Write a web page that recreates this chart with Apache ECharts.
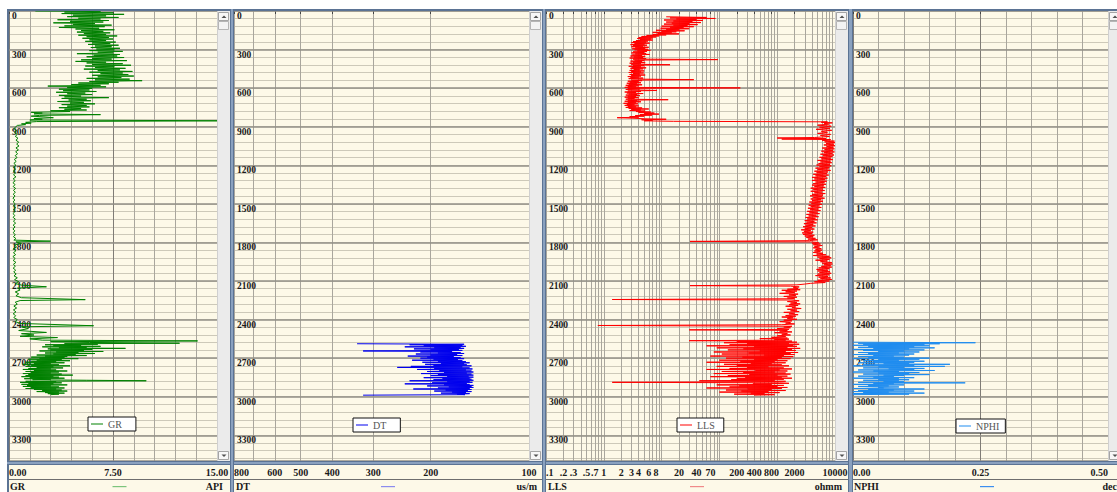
<!DOCTYPE html>
<html><head><meta charset="utf-8">
<script src="https://cdn.jsdelivr.net/npm/echarts@6/dist/echarts.min.js"></script>
<style>html,body{margin:0;padding:0;background:#fff}#c{width:1117px;height:492px}</style>
</head><body><div id="c"></div>
<script>
// ---------------- DATA ----------------
const depthRange = [0, 3500];
const curveNames = ['GR', 'DT', 'LLS', 'NPHI'];
const curveUnits = ['API', 'us/m', 'ohmm', 'dec'];
const grRange = [0, 15];
const dtRange = [100, 800];
const llsRange = [0.1, 10000];
const nphiRange = [0, 0.5];
const grLabelValues = [0, 7.5, 15];
const nphiLabelValues = [0, 0.25, 0.5];
const dtGridValues = [100, 200, 300, 400, 500, 600, 700, 800];
const dtLabelValues = [100, 200, 300, 400, 500, 600, 800];
const llsGridValues = [0.1,0.2,0.3,0.4,0.5,0.6,0.7,0.8,0.9,1,2,3,4,5,6,7,8,9,10,20,30,40,50,60,70,80,90,100,200,300,400,500,600,700,800,900,1000,2000,3000,4000,5000,6000,7000,8000,9000,10000];
const llsLabelValues = [0.1,0.2,0.3,0.5,0.7,1,2,3,4,6,8,20,40,70,200,400,800,2000,10000];

// [depth, value]
const grLog = [
[0,1.9],[2,6.6],[8,4.0],[14,7.5],[20,3.8],[26,8.3],[32,4.6],[38,7.0],[44,4.2],[50,7.9],[56,5.0],[62,6.6],[68,3.5],[74,7.2],[80,4.4],[86,6.8],[92,3.2],[98,6.2],[104,4.6],[110,7.4],[116,4.0],[122,6.9],[128,3.6],[134,6.5],[140,4.8],[146,7.6],[152,5.2],[158,6.8],[164,4.9],[170,7.3],[176,5.4],[182,7.0],[188,5.0],[194,7.8],[200,5.6],[206,7.2],[212,5.3],[218,7.5],[224,5.8],[230,7.0],[236,5.5],[242,7.7],[248,6.0],[254,7.3],[260,5.7],[266,7.9],[272,6.2],[278,7.4],[284,5.9],[290,8.0],[296,6.3],[302,7.6],[308,5.8],[314,8.2],[320,6.4],[326,7.5],[332,4.9],[338,8.0],[344,6.1],[350,7.8],[356,5.6],[362,8.3],[368,6.0],[374,7.4],[380,5.2],[386,8.5],[392,4.8],[398,7.0],[404,5.6],[410,8.2],[416,6.0],[422,8.8],[428,5.5],[434,7.6],[440,6.2],[446,8.4],[452,5.4],[458,8.0],[464,6.4],[470,8.9],[476,5.8],[482,8.2],[488,6.6],[494,8.6],[500,6.0],[506,9.0],[512,6.4],[518,8.1],[524,5.6],[530,8.7],[536,6.2],[542,9.6],[548,5.8],[554,7.9],[560,5.0],[566,7.2],[572,4.5],[578,6.6],[584,2.8],[590,7.0],[596,4.2],[602,6.0],[608,3.6],[614,5.8],[620,3.9],[626,6.3],[632,3.4],[638,5.5],[644,4.2],[650,6.0],[656,3.6],[662,5.2],[668,4.0],[674,7.2],[680,3.8],[686,5.6],[692,4.3],[698,5.9],[704,3.5],[710,5.4],[716,4.4],[722,6.2],[728,3.8],[734,5.6],[740,4.2],[746,5.8],[752,3.6],[758,5.2],[764,4.0],[770,5.6],[776,3.0],[782,4.4],[788,1.6],[794,2.4],[800,1.8],[806,6.6],[812,2.2],[818,1.6],[824,2.6],[830,3.2],[836,1.8],[842,2.4],[848,1.5],[854,16],[860,2.0],[866,1.2],[872,1.6],[878,0.9],[884,1.2],[890,0.6],
[900,0.5],[915,0.35],[930,0.55],[945,0.4],[960,0.6],[975,0.45],[990,0.65],[1005,0.5],[1020,0.7],[1035,0.55],[1050,0.72],[1065,0.5],[1080,0.68],[1095,0.48],[1110,0.62],[1125,0.45],[1140,0.58],[1155,0.38],[1170,0.52],[1185,0.35],[1200,0.5],[1215,0.32],[1230,0.48],[1245,0.3],[1260,0.46],[1275,0.33],[1290,0.5],[1305,0.3],[1320,0.45],[1335,0.28],[1350,0.44],[1365,0.3],[1380,0.48],[1395,0.32],[1410,0.46],[1425,0.3],[1440,0.44],[1455,0.28],[1470,0.42],[1485,0.3],[1500,0.45],[1515,0.32],[1530,0.48],[1545,0.3],[1560,0.44],[1575,0.28],[1590,0.42],[1605,0.3],[1620,0.46],[1635,0.32],[1650,0.48],[1665,0.3],[1680,0.44],[1695,0.28],[1710,0.42],[1725,0.3],[1740,0.46],[1755,0.32],[1770,0.5],[1782,0.35],[1790,3.0],[1796,0.5],[1808,0.9],[1820,0.4],[1835,0.55],[1850,0.3],[1865,0.5],[1880,0.32],[1895,0.48],[1910,0.28],[1925,0.45],[1940,0.3],[1955,0.5],[1970,0.32],[1985,0.46],[2000,0.3],[2015,0.48],[2030,0.34],[2045,0.52],[2060,0.36],[2075,0.6],[2090,0.4],[2105,0.7],[2120,0.45],[2132,0.9],[2145,2.7],[2155,0.6],[2170,0.8],[2185,0.45],[2200,0.7],[2215,0.5],[2230,0.9],[2245,5.5],[2252,0.8],[2265,0.45],[2280,0.6],[2295,0.35],[2310,0.55],[2325,0.32],[2340,0.5],[2355,0.3],[2370,0.48],[2385,0.35],[2400,0.6],[2415,0.45],[2430,0.8],[2448,6.1],[2456,0.9],[2470,1.4],[2485,0.7],[2500,2.7],[2510,0.9],[2520,1.8],[2530,0.8],[2540,3.5],[2550,1.5],[2560,2.4],
[2566,13.6],[2572,3.0],[2578,5.8],[2584,12.3],[2588,4.0],[2592,6.4],[2596,2.6],[2600,5.2],[2604,3.2],[2608,6.6],[2612,2.4],[2616,5.6],[2620,3.6],[2624,8.4],[2628,2.8],[2632,6.0],[2636,3.0],[2640,5.4],[2644,2.2],[2648,6.8],[2652,3.4],[2656,5.0],[2660,2.6],[2664,6.2],[2668,3.2],[2672,4.8],[2676,2.0],[2680,5.6],[2684,2.6],[2688,4.2],[2692,1.6],[2696,4.0],[2700,2.2],[2704,5.0],[2708,1.4],[2712,3.8],[2716,2.0],[2720,4.4],[2724,1.6],[2728,3.4],[2732,1.2],[2736,4.0],[2740,1.8],[2744,3.0],[2748,1.0],[2752,3.6],[2756,1.6],[2760,4.4],[2764,1.2],[2768,3.2],[2772,2.0],[2776,3.9],[2780,1.4],[2784,3.0],[2788,1.0],[2792,3.4],[2796,1.8],[2800,4.2],[2804,1.2],[2808,3.6],[2812,1.6],[2816,3.0],[2820,1.0],[2824,3.8],[2828,1.4],[2832,4.6],[2836,1.2],[2840,3.2],[2844,0.9],[2848,3.6],[2852,1.5],[2856,4.0],[2860,1.1],[2864,3.0],[2868,1.7],[2872,5.6],[2876,9.9],[2880,1.2],[2884,3.4],[2888,0.8],[2892,3.8],[2896,1.4],[2900,3.2],[2904,0.9],[2908,4.2],[2912,1.3],[2916,3.0],[2920,1.0],[2924,3.6],[2928,1.6],[2932,4.0],[2936,1.2],[2940,3.4],[2944,1.8],[2948,3.8],[2952,2.4],[2956,4.2],[2960,2.0],[2964,3.6],[2968,2.6],[2972,4.0],[2976,2.8],[2980,3.6],[2984,3.0]
];

const dtLog = [
[2588,336],[2592,158],[2596,232],[2600,160],[2604,210],[2608,156],[2612,240],[2616,162],[2620,195],[2624,158],[2628,225],[2632,164],[2636,200],[2640,160],[2644,322],[2648,172],[2652,215],[2656,162],[2660,190],[2664,158],[2668,222],[2672,166],[2676,200],[2680,160],[2684,235],[2688,170],[2692,205],[2696,162],[2700,215],[2704,158],[2708,196],[2712,165],[2716,228],[2720,160],[2724,190],[2728,156],[2732,212],[2736,152],[2740,186],[2744,158],[2748,208],[2752,155],[2756,196],[2760,150],[2764,230],[2768,160],[2772,253],[2776,152],[2780,195],[2784,149],[2788,220],[2792,156],[2796,188],[2800,150],[2804,205],[2808,148],[2812,182],[2816,155],[2820,214],[2824,150],[2828,190],[2832,148],[2836,200],[2840,153],[2844,178],[2848,148],[2852,210],[2856,152],[2860,184],[2864,150],[2868,196],[2872,148],[2876,232],[2880,152],[2884,178],[2888,149],[2892,198],[2896,155],[2900,240],[2904,152],[2908,182],[2912,148],[2916,205],[2920,150],[2924,176],[2928,148],[2932,190],[2936,152],[2940,226],[2944,150],[2948,180],[2952,154],[2956,195],[2960,150],[2964,172],[2968,156],[2972,186],[2976,152],[2980,166],[2984,157],[2988,322]
];

const llsLog = [
[45,12],[50,60],[54,14],[58,85],[62,18],[66,40],[70,11],[74,52],[78,16],[82,34],[86,12],[90,48],[94,15],[98,30],[102,11],[106,42],[110,16],[114,28],[118,10],[122,36],[126,14],[130,24],[134,9.6],[138,30],[142,12],[146,20],[150,8],[154,25],[158,10],[162,18],[166,7],[170,15],[174,8.5],[178,20],[182,7],[186,12],[190,5.5],[194,9],[198,4.5],[202,8],[206,4],[210,7],[214,3.8],[218,6.5],[222,4.2],[226,7],[230,3.6],[234,5.8],[238,3.2],[242,5.4],[246,3.0],[250,6.2],[254,3.4],[258,5.0],[262,2.9],[266,5.6],[270,3.2],[274,4.8],[278,3.0],[282,6.0],[286,3.5],[290,5.2],[294,3.1],[298,5.8],[302,3.4],[306,6.4],[310,3.8],[314,5.6],[318,3.2],[322,5.0],[326,3.0],[330,5.4],[334,3.5],[338,6.2],[342,3.1],[346,4.6],[350,2.9],[354,5.2],[358,3.3],[362,4.8],[366,2.8],[370,5.4],[374,3.2],[378,94],[382,3.4],[386,5.0],[390,2.9],[394,4.6],[398,3.2],[402,5.2],[406,2.8],[410,4.4],[414,3.0],[418,14],[422,3.2],[426,5.0],[430,2.7],[434,4.4],[438,3.1],[442,5.4],[446,2.9],[450,4.8],[454,3.3],[458,4.2],[462,2.8],[466,5.0],[470,3.0],[474,4.4],[478,2.7],[482,4.9],[486,3.2],[490,4.2],[494,2.8],[498,5.2],[502,3.0],[506,4.4],[510,2.6],[514,4.0],[518,2.9],[522,4.8],[526,2.7],[530,4.2],[534,36],[538,3.0],[542,4.6],[546,2.6],[550,4.0],[554,2.8],[558,4.4],[562,2.5],[566,3.8],[570,2.7],[574,4.6],[578,2.4],[582,4.0],[586,2.6],[590,3.6],[594,2.3],[598,230],[602,2.6],[606,4.2],[610,2.4],[614,3.8],[618,8.3],[622,2.6],[626,4.4],[630,2.3],[634,3.6],[638,2.5],[642,4.8],[646,2.7],[650,3.8],[654,2.4],[658,4.2],[662,2.6],[666,3.6],[670,2.3],[674,4.0],[678,2.6],[682,3.4],[686,2.4],[690,13],[694,2.6],[698,3.8],[702,2.3],[706,4.4],[710,2.6],[714,3.6],[718,2.2],[722,3.9],[726,2.5],[730,3.4],[734,2.3],[738,4.0],[742,2.6],[746,3.6],[750,2.4],[754,4.6],[758,2.7],[762,6.0],[766,3.0],[770,4.4],[774,2.8],[778,5.2],[782,3.6],[786,6.5],[790,4.0],[794,7.5],[798,5.0],[802,9],[806,4.2],[810,6.8],[814,3.5],[818,5.0],[822,2.8],[826,4.0],[830,1.7],[834,3.2],[838,5.0],[842,12],[846,4.5],[850,7],[854,5],[858,16],[862,7400],[866,5800],[870,9000],[874,6500],
[880,7800],[888,5000],[896,8600],[904,5400],[912,8200],[920,4700],[928,8800],[936,5800],[944,7400],[952,5000],[960,8400],[968,5600],[976,8000],[984,4400],[988,1000],[992,7000],[996,1200],[1000,8400],[1006,6000],[1012,9800],[1018,6600],[1024,10000],[1030,7000],[1036,9600],[1042,6400],[1048,10000],[1054,7200],[1060,9400],[1066,6000],[1072,9800],[1078,6600],[1084,9200],[1090,5800],[1096,9800],[1102,6400],[1108,9000],[1114,5600],[1120,9600],[1126,6200],[1132,9000],[1138,5400],[1144,8600],[1150,5800],[1156,9200],[1162,5000],[1168,8400],[1174,5600],[1180,8800],[1186,5200],[1192,8200],[1198,4800],[1204,8600],[1210,5400],[1216,8000],[1222,4600],[1228,7800],[1234,5000],[1240,8400],[1246,4400],[1252,7600],[1258,4800],[1264,7200],[1270,4200],[1276,7800],[1282,4600],[1288,7000],[1294,4000],[1300,7400],[1306,4400],[1312,6800],[1318,4000],[1324,7200],[1330,4600],[1336,6600],[1342,4200],[1348,7000],[1354,4000],[1360,6400],[1366,4400],[1372,6800],[1378,3800],[1384,6200],[1390,4200],[1396,6600],[1402,3800],[1408,6000],[1414,4400],[1420,6800],[1426,4000],[1432,6200],[1438,3700],[1444,6000],[1450,4200],[1456,6600],[1462,3800],[1468,5800],[1474,4000],[1480,6200],[1486,3600],[1492,5600],[1498,3900],[1504,6000],[1510,3500],[1516,5400],[1522,3800],[1528,5800],[1534,3400],[1540,5200],[1546,3700],[1552,5600],[1558,3300],[1564,5000],[1570,3600],[1576,5400],[1582,3200],[1588,4800],[1594,3500],[1600,5200],[1606,3100],[1612,4600],[1618,3300],[1624,5000],[1630,3000],[1636,4400],[1642,3200],[1648,4800],[1654,2900],[1660,4200],[1666,3100],[1672,4600],[1678,2800],[1684,4000],[1690,3000],[1696,4400],[1702,2600],[1708,3800],[1714,2900],[1720,4200],[1726,2700],[1732,4000],[1738,2800],[1744,4400],[1750,3000],[1756,4200],[1762,3200],[1768,4600],[1774,3400],[1780,5000],[1786,3600],[1792,31],[1796,3800],[1800,5200],[1806,4000],[1812,5600],[1818,4200],[1824,6000],[1830,4400],[1836,5400],[1842,4200],[1848,5800],[1854,4600],[1860,6000],[1866,4400],[1872,5600],[1878,4200],[1884,6200],[1890,4800],[1896,7000],[1902,4200],[1908,8000],[1914,5000],[1920,8600],[1926,5400],[1932,8000],[1938,4600],[1944,7400],[1950,5600],[1956,8800],[1962,6000],[1968,9000],[1974,6400],[1980,8400],[1986,5800],[1992,8800],[1998,5200],[2004,8000],[2010,4800],[2016,7600],[2022,5000],[2028,8200],[2034,5400],[2040,8600],[2046,5000],[2052,8000],[2058,4600],[2064,7600],[2070,5200],[2076,8400],[2082,5600],[2088,8800],[2094,5000],[2100,8000],[2106,4400],[2112,6800],[2118,3800],[2124,3000],[2130,2200],[2136,31],[2140,1700],[2146,2400],[2152,1900],[2158,2300],[2164,1500],[2168,2500],[2172,1200],[2178,2200],[2184,1400],[2190,2000],[2196,1100],[2202,2300],[2208,1600],[2214,2100],[2220,1300],[2226,2200],[2232,1500],[2238,2000],[2244,1.4],[2248,1800],[2254,2400],[2260,1500],[2266,2200],[2272,1700],[2278,2500],[2284,1600],[2290,2300],[2296,1400],[2302,2100],[2308,1800],[2314,2600],[2320,1500],[2326,2200],[2332,1700],[2338,2400],[2344,1300],[2350,2000],[2356,1600],[2362,2300],[2368,1400],[2374,2100],[2380,1200],[2386,1900],[2392,1500],[2398,2200],[2404,1300],[2410,1800],[2416,1100],[2422,1700],[2428,1400],[2434,2000],[2440,1200],[2446,0.79],[2452,1800],[2458,1300],[2464,1700],[2470,1000],[2476,1600],[2480,30],[2484,1500],[2490,1100],[2496,1800],[2502,900],[2508,1500],[2514,1200],[2520,1700],[2526,1000],[2532,1400],[2538,800],[2544,1500],[2548,500],[2552,1600],[2556,900],[2560,1400],
[2564,30],[2568,1800],[2572,200],[2576,2200],[2580,120],[2584,1600],[2588,300],[2592,2400],[2596,150],[2600,1900],[2604,60],[2608,2200],[2612,400],[2616,1500],[2620,90],[2624,2500],[2628,260],[2632,1800],[2636,140],[2640,2100],[2644,500],[2648,1400],[2652,80],[2656,2300],[2660,320],[2664,1700],[2668,110],[2672,2000],[2676,600],[2680,1300],[2684,70],[2688,1900],[2692,250],[2696,1200],[2700,130],[2704,1700],[2708,400],[2712,1000],[2716,100],[2720,1500],[2724,230],[2728,900],[2732,60],[2736,1400],[2740,350],[2744,800],[2748,120],[2752,1200],[2756,200],[2760,1600],[2764,90],[2768,700],[2772,300],[2776,1300],[2780,150],[2784,1800],[2788,60],[2792,1100],[2796,420],[2800,1500],[2804,110],[2808,900],[2812,260],[2816,1400],[2820,80],[2824,1700],[2828,330],[2832,1000],[2836,140],[2840,1500],[2844,70],[2848,1200],[2852,280],[2856,1800],[2860,200],[2864,1300],[2868,160],[2872,900],[2876,45],[2880,1400],[2884,300],[2888,1.4],[2892,1100],[2896,1600],[2900,380],[2904,800],[2908,90],[2912,1300],[2916,220],[2920,1000],[2924,150],[2928,1500],[2932,60],[2936,1200],[2940,310],[2944,800],[2948,130],[2952,1400],[2956,240],[2960,700],[2964,100],[2968,1100],[2972,350],[2976,600],[2980,180],[2984,900],[2988,400]
];

const nphiLog = [
[2576,0.0],[2580,0.24],[2584,0.01],[2588,0.17],[2592,0.02],[2596,0.14],[2600,0.0],[2604,0.15],[2608,0.03],[2612,0.12],[2616,0.01],[2620,0.16],[2624,0.04],[2628,0.11],[2632,0.0],[2636,0.14],[2640,0.02],[2644,0.10],[2648,0.05],[2652,0.13],[2656,0.01],[2660,0.09],[2664,0.03],[2668,0.12],[2672,0.0],[2676,0.11],[2680,0.04],[2684,0.08],[2688,0.01],[2692,0.10],[2696,0.03],[2700,0.15],[2704,0.0],[2708,0.13],[2712,0.05],[2716,0.09],[2720,0.02],[2724,0.14],[2728,0.04],[2732,0.12],[2736,0.01],[2740,0.11],[2744,0.06],[2748,0.19],[2752,0.02],[2756,0.12],[2760,0.0],[2764,0.18],[2768,0.05],[2772,0.10],[2776,0.02],[2780,0.14],[2784,0.07],[2788,0.12],[2792,0.01],[2796,0.16],[2800,0.04],[2804,0.09],[2808,0.0],[2812,0.13],[2816,0.05],[2820,0.11],[2824,0.02],[2828,0.15],[2832,0.06],[2836,0.10],[2840,0.01],[2844,0.08],[2848,0.04],[2852,0.12],[2856,0.0],[2860,0.09],[2864,0.05],[2868,0.11],[2872,0.02],[2876,0.09],[2880,0.06],[2884,0.10],[2888,0.01],[2892,0.22],[2896,0.04],[2900,0.08],[2904,0.0],[2908,0.10],[2912,0.03],[2916,0.07],[2920,0.01],[2924,0.09],[2928,0.05],[2932,0.06],[2936,0.0],[2940,0.14],[2944,0.03],[2948,0.08],[2952,0.01],[2956,0.12],[2960,0.0],[2964,0.07],[2968,0.02],[2972,0.14],[2976,0.0],[2980,0.11],[2984,0.0]
];

// ---------------- LAYOUT / STYLE ----------------
const FONT = '"Liberation Serif", "DejaVu Serif", serif';
const CREAM = '#fdf9e8';
const FRAME = '#8aa1bf', FRAME_DARK = '#5b7394';
const plotTop = 11, plotH = 450, plotBottom = plotTop + plotH;
const tracks = [
  { left: 9,   right: 217, color: '#008000', legendColor: '#7cc47c', legend: { left: 88, top: 417, padding: [2, 14, 2, 3] }, nameX: 10,  unitX: 223 },
  { left: 234, right: 529, color: '#0000ee', legendColor: '#8c8cee', legend: { left: 353, top: 418, padding: [2, 14, 2, 3] }, nameX: 236, unitX: 537 },
  { left: 546, right: 835, color: '#ff0000', legendColor: '#f08a8a', legend: { left: 677, top: 418, padding: [2, 9, 2, 3] },  nameX: 548, unitX: 842 },
  { left: 853, right: 1108, color: '#1e8cf0', legendColor: '#3c8ff0', legend: { left: 956, top: 419, padding: [2, 6, 2, 3] },  nameX: 854, unitX: 1117 }
];

function nudge(vals, lo, hi) { return vals.map(v => v <= lo ? lo * 1.000001 : (v >= hi ? hi * 0.999999 : v)); }
function nearest(list, val) {
  let best = list[0], bd = Infinity;
  list.forEach(v => { const d = Math.abs(Math.log(v) - Math.log(val)); if (d < bd) { bd = d; best = v; } });
  return best;
}
const labelText = { fontFamily: FONT, fontWeight: 'bold', fontSize: 10, color: '#1a1a1a' };
const vGrid = { show: true, lineStyle: { color: '#a9a69d', width: 1 } };

const grids = tracks.map(t => ({ left: t.left, top: plotTop, width: t.right - t.left, height: plotH, containLabel: false }));

function gridAxis(gi, base) {
  return Object.assign({ gridIndex: gi, position: 'top', axisLine: { show: false }, axisTick: { show: false }, axisLabel: { show: false }, splitLine: vGrid, z: 1 }, base);
}
function labelAxis(gi, base, lab) {
  return Object.assign({ gridIndex: gi, position: 'bottom', offset: 4, axisLine: { show: false },
    axisTick: Object.assign({ show: true, length: 3, inside: false, lineStyle: { color: '#444' } }, lab.tick || {}),
    axisLabel: Object.assign({ show: true, margin: 2 }, labelText, lab.label),
    splitLine: lab.split || { show: false }, z: 2 }, base);
}

const xAxes = [
  gridAxis(0, { type: 'value', min: grRange[0], max: grRange[1], interval: 1.5 }),
  labelAxis(0, { type: 'value', min: grRange[0], max: grRange[1], interval: 7.5 },
    { label: { formatter: v => v.toFixed(2), alignMinLabel: 'left', alignMaxLabel: 'center' },
      split: { show: true, lineStyle: { color: '#7f7c76', width: 1 } } }),
  gridAxis(1, { type: 'log', logBase: 10, min: dtRange[0], max: dtRange[1], inverse: true,
    axisTick: { show: false, customValues: nudge(dtGridValues, dtRange[0], dtRange[1]) } }),
  labelAxis(1, { type: 'log', logBase: 10, min: dtRange[0], max: dtRange[1], inverse: true },
    { tick: { customValues: nudge(dtLabelValues, dtRange[0], dtRange[1]) },
      label: { customValues: nudge(dtLabelValues, dtRange[0], dtRange[1]), formatter: v => String(nearest(dtLabelValues, v)), alignMinLabel: 'center', alignMaxLabel: 'left' } }),
  gridAxis(2, { type: 'log', logBase: 10, min: llsRange[0], max: llsRange[1],
    axisTick: { show: false, customValues: nudge(llsGridValues, llsRange[0], llsRange[1]) } }),
  labelAxis(2, { type: 'log', logBase: 10, min: llsRange[0], max: llsRange[1] },
    { tick: { customValues: nudge(llsLabelValues, llsRange[0], llsRange[1]) },
      label: { customValues: nudge(llsLabelValues, llsRange[0], llsRange[1]),
        formatter: v => { const n = nearest(llsLabelValues, v); return n < 1 ? String(n).replace(/^0/, '') : String(n); },
        alignMinLabel: 'left', alignMaxLabel: 'center' } }),
  gridAxis(3, { type: 'value', min: nphiRange[0], max: nphiRange[1], interval: 0.05 }),
  labelAxis(3, { type: 'value', min: nphiRange[0], max: nphiRange[1], interval: 0.25 },
    { label: { formatter: v => v.toFixed(2), alignMinLabel: 'left', alignMaxLabel: 'right' },
      split: { show: true, lineStyle: { color: '#7f7c76', width: 1 } } })
];

const yAxes = [];
tracks.forEach((t, i) => {
  yAxes.push({ gridIndex: i, type: 'value', inverse: true, min: depthRange[0], max: depthRange[1], interval: 300, position: 'left',
    axisLine: { show: false }, axisTick: { show: false },
    axisLabel: { show: true, inside: true, margin: 3, verticalAlign: 'top', padding: [0, 0, 0, 0], showMaxLabel: false,
      formatter: v => String(v),
      fontFamily: FONT, fontWeight: 'bold', fontSize: 9.5, color: '#1a1a1a' },
    splitLine: { show: true, lineStyle: { color: '#928f87', width: 1.5 } }, z: 3 });
  yAxes.push({ gridIndex: i, type: 'value', inverse: true, min: depthRange[0], max: depthRange[1], interval: 60, position: 'right',
    axisLine: { show: false }, axisTick: { show: false }, axisLabel: { show: false },
    splitLine: { show: true, lineStyle: { color: '#cdc9b9', width: 1 } }, z: 0 });
});

const logs = [grLog, dtLog, llsLog, nphiLog];
const series = logs.map((log, i) => ({
  name: curveNames[i], type: 'line', xAxisIndex: i * 2, yAxisIndex: i * 2,
  data: log.map(p => [p[1], p[0]]), symbol: 'none', showSymbol: false, clip: true,
  color: tracks[i].color, lineStyle: { color: tracks[i].color, width: 1 }, z: 5, silent: true, animation: false
}));

const legends = tracks.map((t, i) => ({
  data: [curveNames[i]], left: t.legend.left, top: t.legend.top, padding: t.legend.padding,
  backgroundColor: '#ffffff', borderColor: '#111', borderWidth: 1, borderRadius: 0,
  icon: 'rect', itemWidth: 12, itemHeight: 1, itemGap: 0, selectedMode: false,
  textStyle: { fontFamily: FONT, fontSize: 10, color: '#555' }
}));

// ---------------- FRAME GRAPHICS ----------------
const els = [];
function rect(x, y, w, h, fill, z, stroke) {
  els.push({ type: 'rect', silent: true, z: z, shape: { x: x, y: y, width: w, height: h },
    style: stroke ? { fill: fill, stroke: stroke, lineWidth: 1 } : { fill: fill } });
}
function tri(points, z) { els.push({ type: 'polygon', silent: true, z: z, shape: { points: points }, style: { fill: '#505050' } }); }
function txt(text, x, y, align, z, font) {
  els.push({ type: 'text', silent: true, z: z, style: { text: text, x: x, y: y, textAlign: align, align: align,
    textVerticalAlign: 'middle', verticalAlign: 'middle', font: font || ('bold 10px ' + FONT), fill: '#1a1a1a' } });
}
tracks.forEach(t => rect(t.left, plotTop, t.right - t.left, plotH, CREAM, -10));
rect(8, 465, 1109, 27, CREAM, -10);
rect(8, 479, 1109, 1, '#6e6e6e', 6);
tracks.forEach(t => {
  const x = t.right;
  rect(x, plotTop, 13, plotH, '#ebebeb', 6);
  rect(x, plotTop, 1, plotH, '#d0d0d0', 6);
  rect(x + 1.5, 12.5, 10, 8, '#f7f7f7', 7, '#a5a5a5');
  tri([[x + 4.5, 18], [x + 9.5, 18], [x + 7, 15.5]], 8);
  rect(x + 1.5, 21.5, 10, 8, '#f3f3f3', 7, '#b5b5b5');
  rect(x + 1.5, 451.5, 10, 8, '#f7f7f7', 7, '#a5a5a5');
  tri([[x + 4.5, 454.5], [x + 9.5, 454.5], [x + 7, 457]], 8);
});
rect(0, 0, 1117, 9, '#ffffff', 9);
rect(0, 0, 7, 492, '#ffffff', 9);
rect(7, 9, 1110, 2, FRAME_DARK, 10);
rect(7, 9, 2, 483, FRAME_DARK, 10);
rect(7, 461, 1110, 4, FRAME, 10);
rect(7, 461, 1110, 1, FRAME_DARK, 10);
rect(7, 464, 1110, 1, FRAME_DARK, 10);
[[230, 4], [542, 4], [848, 5]].forEach(s => {
  rect(s[0], 9, s[1], 483, FRAME, 11);
  rect(s[0], 9, 1, 483, FRAME_DARK, 11);
  rect(s[0] + s[1] - 1, 9, 1, 483, FRAME_DARK, 11);
});
tracks.forEach((t, i) => {
  txt(curveNames[i], t.nameX, 486, 'left', 12);
  txt(curveUnits[i], t.unitX, 486, 'right', 12);
  const mid = (t.left + t.right + 13) / 2;
  rect(mid - 7, 486, 14, 1.2, t.legendColor, 12);
});

const chart = echarts.init(document.getElementById('c'), null, { renderer: 'svg', width: 1117, height: 492 });
chart.setOption({
  animation: false,
  backgroundColor: '#ffffff',
  grid: grids,
  xAxis: xAxes,
  yAxis: yAxes,
  legend: legends,
  series: series,
  graphic: { elements: els }
});
</script>
</body></html>
